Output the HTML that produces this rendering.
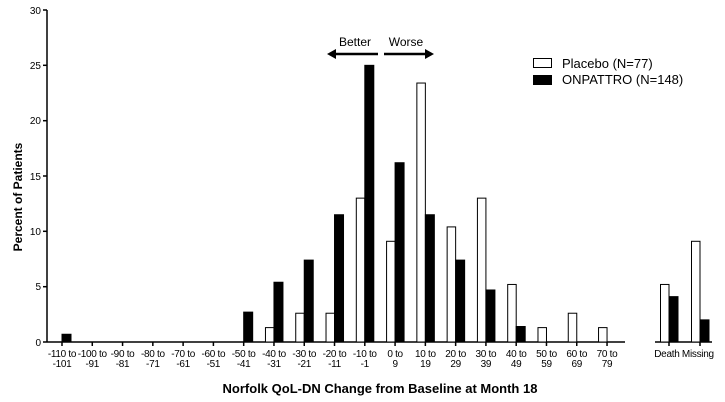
<!DOCTYPE html>
<html><head><meta charset="utf-8"><style>
html,body{margin:0;padding:0;background:#fff;}
svg{display:block;font-family:"Liberation Sans",Arial,sans-serif;}
</style></head><body>
<svg width="725" height="402" viewBox="0 0 725 402" xmlns="http://www.w3.org/2000/svg">
<g stroke="#000" stroke-width="1.5">
<line x1="47" y1="10" x2="47" y2="342"/>
<line x1="43" y1="342" x2="625" y2="342"/>
<line x1="655" y1="342" x2="712" y2="342"/>
<line x1="43" y1="10" x2="47" y2="10"/>
<line x1="43" y1="65.3" x2="47" y2="65.3"/>
<line x1="43" y1="120.7" x2="47" y2="120.7"/>
<line x1="43" y1="176" x2="47" y2="176"/>
<line x1="43" y1="231.3" x2="47" y2="231.3"/>
<line x1="43" y1="286.7" x2="47" y2="286.7"/>
</g>
<g font-size="10" text-anchor="end" fill="#000">
<text x="41" y="14">30</text><text x="41" y="69">25</text><text x="41" y="124">20</text>
<text x="41" y="180">15</text><text x="41" y="235">10</text><text x="41" y="290">5</text><text x="41" y="346">0</text>
</g>
<text transform="translate(22,197) rotate(-90)" font-size="12" font-weight="bold" text-anchor="middle">Percent of Patients</text>
<g id="bars" stroke="#000" stroke-width="1"></g>
<g id="ticks"></g>
<text x="380" y="393" font-size="13" font-weight="bold" text-anchor="middle">Norfolk QoL-DN Change from Baseline at Month 18</text>
<g font-size="12" text-anchor="middle"><text x="355" y="46">Better</text><text x="406" y="46">Worse</text></g>
<line x1="334" y1="54" x2="378" y2="54" stroke="#000" stroke-width="2.5"/>
<polygon points="327,54 336,49 336,59" fill="#000"/>
<line x1="384" y1="54" x2="427" y2="54" stroke="#000" stroke-width="2.5"/>
<polygon points="434,54 425,49 425,59" fill="#000"/>
<rect x="533.5" y="58.5" width="18" height="9" fill="#fff" stroke="#000" stroke-width="1"/>
<rect x="533" y="75" width="19" height="10" fill="#000"/>
<g font-size="13"><text x="562" y="68">Placebo (N=77)</text><text x="562" y="84">ONPATTRO (N=148)</text></g>
<script>
var ns="http://www.w3.org/2000/svg";
function el(t,a,p,txt){var e=document.createElementNS(ns,t);for(var k in a)e.setAttribute(k,a[k]);if(txt)e.textContent=txt;p.appendChild(e);return e;}
var bars=document.getElementById('bars'),ticks=document.getElementById('ticks');
var svg=document.querySelector('svg');
var pl=[0,0,0,0,0,0,0,1.3,2.6,2.6,13,9.1,23.4,10.4,13,5.2,1.3,2.6,1.3];
var on=[0.7,0,0,0,0,0,2.7,5.4,7.4,11.5,25,16.2,11.5,7.4,4.7,1.4,0,0,0];
var l1=["-110 to","-100 to","-90 to","-80 to","-70 to","-60 to","-50 to","-40 to","-30 to","-20 to","-10 to","0 to","10 to","20 to","30 to","40 to","50 to","60 to","70 to"];
var l2=["-101","-91","-81","-71","-61","-51","-41","-31","-21","-11","-1","9","19","29","39","49","59","69","79"];
var s=332/30;
function bar(t,p,o){
 if(p>0)el('rect',{x:t-9+0.5,y:342-p*s,width:8.5,height:p*s,fill:'#fff'},bars);
 if(o>0)el('rect',{x:t,y:342-o*s,width:9,height:o*s,fill:'#000'},bars);
 el('line',{x1:t,y1:342,x2:t,y2:346,stroke:'#000','stroke-width':1.5},ticks);
}
for(var i=0;i<19;i++){var t=62+i*30.28;bar(t,pl[i],on[i]);
 el('text',{x:t,y:357,'font-size':10,'letter-spacing':'-0.3','text-anchor':'middle'},svg,l1[i]);
 el('text',{x:t,y:367,'font-size':10,'letter-spacing':'-0.3','text-anchor':'middle'},svg,l2[i]);}
bar(669,5.2,4.1);bar(700,9.1,2.0);
el('text',{x:684,y:357,'font-size':10,'letter-spacing':'-0.3','text-anchor':'middle'},svg,"Death Missing");
</script>
</svg>
</body></html>
